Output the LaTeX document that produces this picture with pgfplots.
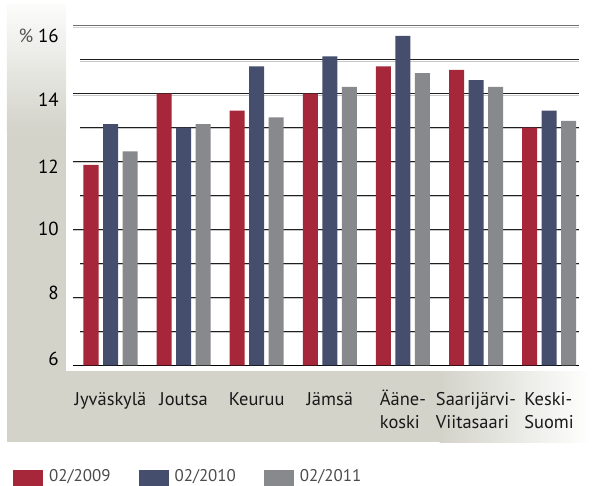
\documentclass[border=0pt]{standalone}
\usepackage{pgfplots}
\pgfplotsset{compat=1.18}
\usetikzlibrary{backgrounds}
\usepackage{fontspec}
\setmainfont{PT Sans}
\definecolor{cred}{RGB}{166,39,58}
\definecolor{cblue}{RGB}{69,78,108}
\definecolor{cgray}{RGB}{136,137,141}
\definecolor{bggray}{RGB}{211,211,202}
\definecolor{lgtext}{RGB}{75,75,75}
\definecolor{pctgray}{RGB}{85,85,85}
\newcommand{\lstrut}{\rule{0pt}{16bp}}
\begin{document}
\begin{tikzpicture}
\begin{axis}[
  scale only axis, width=506bp, height=341.3bp,
  xmin=-0.513, xmax=6.409, ymin=6, ymax=16.05,
  enlargelimits=false,
  ybar=4.5bp, bar width=15bp,
  axis lines*=left, axis line style={-},
  x axis line style={black, line width=1.4bp},
  y axis line style={draw=none},
  tick style={draw=none},
  xtick={0,...,6},
  xticklabels={\lstrut Jyväskylä, \lstrut Joutsa, \lstrut Keuruu, \lstrut Jämsä, {\lstrut Ääne-\\koski}, {\lstrut Saarijärvi-\\Viitasaari}, {\lstrut Keski-\\Suomi}},
  xticklabel style={font=\fontsize{18.5}{22.5}\selectfont, align=left, anchor=north, inner sep=0pt, yshift=-20bp, text=black!90},
  ytick={15.71,13.81,11.86,10.01,8.12,6.20},
  yticklabels={{{\color{pctgray}\%}\hspace{5bp}16}, 14, 12, 10, 8, 6},
  yticklabel style={font=\fontsize{19}{19}\selectfont, anchor=east, inner sep=0pt, xshift=-14bp},
  /pgf/number format/assume math mode=true,
  legend columns=3,
  legend image code/.code={\fill[#1] (0bp,-18bp) rectangle (30bp,6bp); \path (36bp,0bp);},
  legend style={draw=none, fill=none, inner sep=0pt,
    at={(axis description cs:-0.1186,-0.3035)}, anchor=north west,
    nodes={inner sep=0pt, font=\fontsize{17}{17}\selectfont, text=lgtext},
    /tikz/every even column/.append style={column sep=28bp}},
]
\coordinate (SW) at (rel axis cs:0,0);
% grid lines
\pgfplotsinvokeforeach{8,10,12,14}{
  \draw[black!22, line width=1bp, yshift=-1.4bp] (axis cs:-0.513,#1) -- (axis cs:6.409,#1);
  \draw[black!88, line width=0.9bp] (axis cs:-0.513,#1) -- (axis cs:6.409,#1);
}
\pgfplotsinvokeforeach{7,9,11,13,15}{
  \draw[black!22, line width=1bp, yshift=-1.4bp] (axis cs:-0.417,#1) -- (axis cs:6.409,#1);
  \draw[black!88, line width=0.9bp] (axis cs:-0.417,#1) -- (axis cs:6.409,#1);
}
\draw[black!18, line width=1bp, yshift=-1.4bp] (axis cs:-0.513,16) -- (axis cs:6.409,16);
\draw[black!55, line width=1bp] (axis cs:-0.513,16) -- (axis cs:6.409,16);
\addplot[fill=cred, draw=none] coordinates {(0,11.9) (1,14.0) (2,13.5) (3,14.0) (4,14.8) (5,14.7) (6,13.0)};
\addplot[fill=cblue, draw=none] coordinates {(0,13.1) (1,13.0) (2,14.8) (3,15.1) (4,15.7) (5,14.4) (6,13.5)};
\addplot[fill=cgray, draw=none] coordinates {(0,12.3) (1,13.1) (2,13.3) (3,14.2) (4,14.6) (5,14.2) (6,13.2)};
\legend{02/2009, 02/2010, 02/2011}
\end{axis}
\begin{pgfonlayer}{background}
\begin{scope}[shift={(SW)}, x=1bp, y=1bp]
% page: x_px -> x_px-73 ; y_px -> 365.3-y_px
\fill[bggray] (-66,-76.7) rectangle (-7,235.3);
\shade[top color=white!92!bggray, bottom color=bggray] (-66,234.8) rectangle (-7,360.3);
\fill[bggray] (-66,-76.7) rectangle (367,-6.2);
\shade[left color=bggray, right color=white] (366.5,-76.7) rectangle (519,-6.2);
\end{scope}
\end{pgfonlayer}
\pgfresetboundingbox
\useasboundingbox ([shift={(-73bp,-120.7bp)}]SW) rectangle ([shift={(519bp,365.3bp)}]SW);
\end{tikzpicture}
\end{document}
